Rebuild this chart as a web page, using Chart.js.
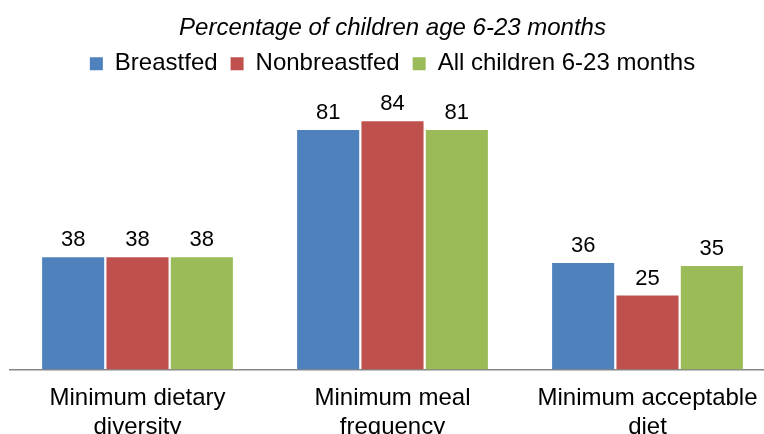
<!DOCTYPE html>
<html>
<head>
<meta charset="utf-8">
<script src="https://cdn.jsdelivr.net/npm/chart.js@4"></script>
<style>
  html, body { margin: 0; padding: 0; background: #fff; overflow: hidden; }
  #wrap { width: 764px; height: 434px; overflow: hidden; position: relative; }
  canvas { position: absolute; left: 0; top: 0; }
</style>
</head>
<body>
<div id="wrap"><canvas id="chart" width="785" height="449"></canvas></div>
<script>
// categories and values
const categories = [
    ['Minimum dietary', 'diversity'],
    ['Minimum meal', 'frequency'],
    ['Minimum acceptable', 'diet']
];
const breastfed = [38, 81, 36];
const nonbreastfed = [38, 84, 25];
const allChildren = [38, 81, 35];

const FONT = '"Liberation Sans", Arial, sans-serif';

// numbers above the bars
const valueLabels = {
    id: 'valueLabels',
    afterDatasetsDraw(chart) {
        const ctx = chart.ctx;
        ctx.save();
        ctx.font = '22px ' + FONT;
        ctx.fillStyle = '#000';
        ctx.textAlign = 'center';
        ctx.textBaseline = 'alphabetic';
        chart.data.datasets.forEach((ds, i) => {
            chart.getDatasetMeta(i).data.forEach((bar, j) => {
                ctx.fillText(ds.data[j], bar.x, bar.y - 11);
            });
        });
        ctx.restore();
    }
};

const ctx = document.getElementById('chart').getContext('2d');
const chart = new Chart(ctx, {
    type: 'bar',
    data: {
        labels: categories,
        datasets: [
            { label: 'Breastfed', data: breastfed, backgroundColor: '#4F81BD' },
            { label: 'Nonbreastfed', data: nonbreastfed, backgroundColor: '#C0504D' },
            { label: 'All children 6-23 months', data: allChildren, backgroundColor: '#9BBB59' }
        ]
    },
    options: {
        responsive: false,
        animation: false,
        categoryPercentage: 0.757,
        barPercentage: 0.965,
        layout: { padding: { left: 10, right: 10, top: 0, bottom: 0 } },
        plugins: {
            title: {
                display: true,
                text: 'Percentage of children age 6-23 months',
                color: '#000',
                font: { family: FONT, size: 24, style: 'italic', weight: 'normal' },
                padding: { top: 14, bottom: -4 }
            },
            legend: {
                position: 'top',
                labels: {
                    color: '#000',
                    font: { family: FONT, size: 24 },
                    boxWidth: 13,
                    boxHeight: 13,
                    padding: 13
                }
            },
            tooltip: { enabled: false }
        },
        scales: {
            x: {
                grid: { display: false },
                border: { display: true, color: '#868686', width: 1.5 },
                ticks: {
                    color: '#000',
                    font: { family: FONT, size: 24, lineHeight: 1.2 },
                    padding: 7,
                    maxRotation: 0,
                    autoSkip: false
                }
            },
            y: {
                display: false,
                min: 0,
                max: 96
            }
        }
    },
    plugins: [valueLabels]
});
</script>
</body>
</html>
